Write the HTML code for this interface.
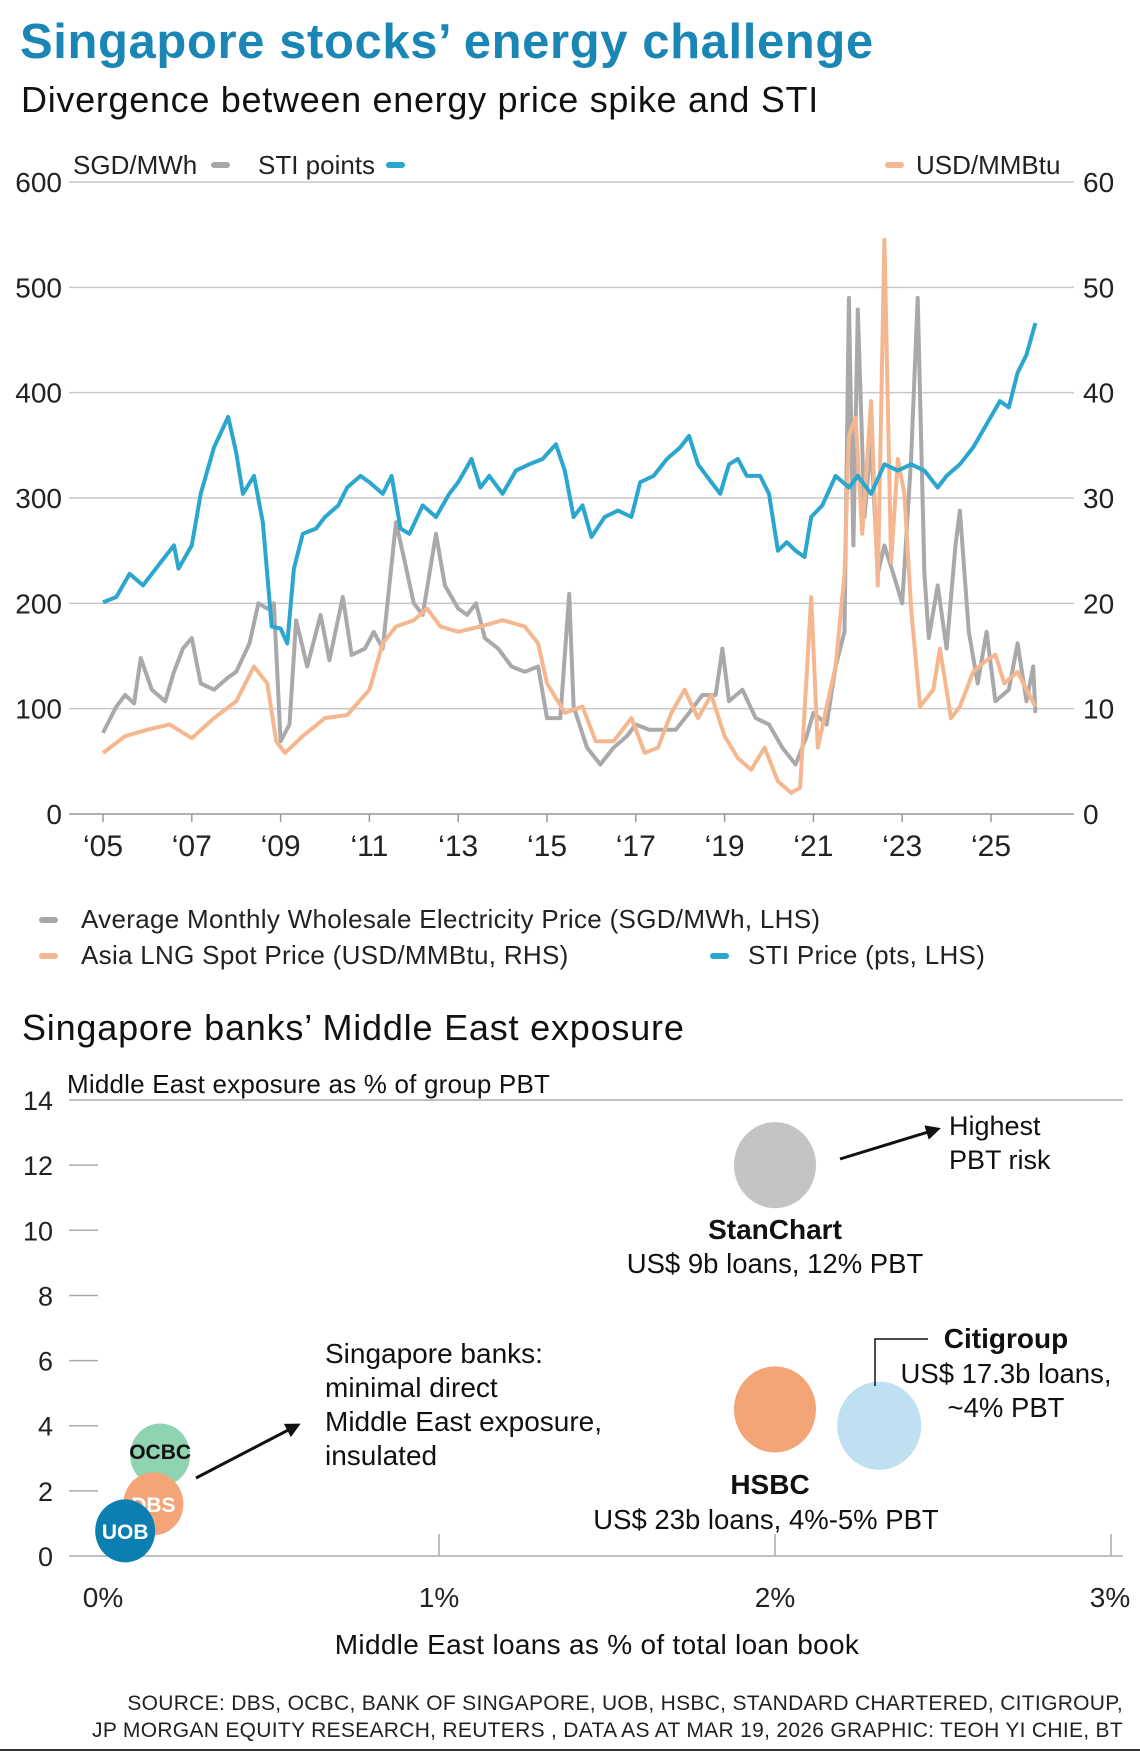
<!DOCTYPE html>
<html><head><meta charset="utf-8"><style>
body{margin:0;background:#fff;}
#root{position:relative;width:1140px;height:1756px;overflow:hidden;font-family:"Liberation Sans",sans-serif;}
svg text{font-family:"Liberation Sans",sans-serif;}
</style></head><body>
<div id="root">
<svg id="svg" width="1140" height="1756" viewBox="0 0 1140 1756">
<text x="20" y="58" font-size="49" font-weight="bold" fill="#1a86b6" letter-spacing="0.6">Singapore stocks’ energy challenge</text>
<text x="21" y="112" font-size="36" fill="#111" letter-spacing="0.7">Divergence between energy price spike and STI</text>
<g id="c1"></g>
<g>
<rect x="39" y="917" width="19" height="6" rx="3" fill="#a7a7a9"/>
<text x="81" y="928" font-size="26" fill="#222" letter-spacing="0.3">Average Monthly Wholesale Electricity Price (SGD/MWh, LHS)</text>
<rect x="39" y="953" width="19" height="6" rx="3" fill="#f5b78f"/>
<text x="81" y="964" font-size="26" fill="#222" letter-spacing="0.3">Asia LNG Spot Price (USD/MMBtu, RHS)</text>
<rect x="710" y="953" width="19" height="6" rx="3" fill="#2aa6cf"/>
<text x="748" y="964" font-size="26" fill="#222" letter-spacing="0.3">STI Price (pts, LHS)</text>
</g>
<text x="22" y="1040" font-size="36" fill="#111" letter-spacing="0.8">Singapore banks’ Middle East exposure</text>
<g id="c2"></g>
<g font-size="21" fill="#222" text-anchor="end" letter-spacing="0.3">
<text x="1123" y="1710">SOURCE: DBS, OCBC, BANK OF SINGAPORE, UOB, HSBC, STANDARD CHARTERED, CITIGROUP,</text>
<text x="1123" y="1737">JP MORGAN EQUITY RESEARCH, REUTERS , DATA AS AT MAR 19, 2026    GRAPHIC: TEOH YI CHIE, BT</text>
</g>
<line x1="0" y1="1750" x2="1140" y2="1750" stroke="#333" stroke-width="2"/>
</svg>
</div>
<script>
const stiYears=[2005,2005.3,2005.6,2005.9,2006.3,2006.6,2006.7,2007,2007.2,2007.5,2007.82,2008,2008.15,2008.4,2008.6,2008.8,2009,2009.15,2009.3,2009.5,2009.8,2010,2010.3,2010.5,2010.8,2011,2011.3,2011.5,2011.7,2011.9,2012.2,2012.5,2012.8,2013,2013.3,2013.5,2013.7,2014,2014.3,2014.6,2014.9,2015.2,2015.4,2015.6,2015.8,2016,2016.3,2016.6,2016.9,2017.1,2017.4,2017.7,2018,2018.2,2018.4,2018.7,2018.9,2019.1,2019.3,2019.5,2019.8,2020,2020.2,2020.4,2020.6,2020.8,2020.95,2021.2,2021.5,2021.8,2022,2022.3,2022.6,2022.9,2023.2,2023.5,2023.8,2024,2024.3,2024.6,2024.9,2025.2,2025.4,2025.6,2025.8,2026];
const stiValues=[201,206,228,217,239,255,233,255,304,348,377,343,304,321,277,178,176,162,233,266,271,282,293,310,321,315,304,321,271,266,293,282,304,315,337,310,321,304,326,332,337,351,326,282,293,263,282,288,282,315,321,337,348,359,332,315,304,332,337,321,321,304,250,258,250,244,282,293,321,310,321,304,332,326,332,326,310,321,332,348,370,392,386,419,436,466];
const elecYears=[2005,2005.3,2005.5,2005.7,2005.85,2006.1,2006.4,2006.6,2006.8,2007,2007.2,2007.5,2007.8,2008,2008.3,2008.5,2008.7,2008.85,2009,2009.2,2009.35,2009.6,2009.9,2010.1,2010.4,2010.6,2010.9,2011.1,2011.3,2011.6,2011.8,2012,2012.2,2012.5,2012.7,2013,2013.2,2013.4,2013.6,2013.9,2014.2,2014.5,2014.8,2015,2015.3,2015.5,2015.6,2015.9,2016.2,2016.5,2016.8,2017,2017.3,2017.6,2017.9,2018.2,2018.5,2018.8,2018.95,2019.1,2019.4,2019.7,2020,2020.3,2020.6,2020.85,2021,2021.3,2021.5,2021.7,2021.8,2021.9,2022,2022.15,2022.3,2022.45,2022.6,2022.8,2023,2023.2,2023.35,2023.5,2023.6,2023.8,2024,2024.2,2024.3,2024.5,2024.7,2024.9,2025.1,2025.4,2025.6,2025.8,2025.95,2026];
const elecValues=[77,102,113,105,148,118,107,135,157,167,124,118,129,135,162,200,195,200,69,85,184,140,189,146,206,151,157,173,157,277,239,200,189,266,217,195,189,200,167,157,140,135,140,91,91,209,102,63,47,63,74,85,80,80,80,96,113,113,157,107,118,91,85,63,47,74,96,85,140,173,490,255,479,282,354,228,255,228,200,337,490,228,167,217,157,255,288,173,124,173,107,118,162,107,140,96];
const lngYears=[2005,2005.5,2006,2006.5,2007,2007.5,2008,2008.4,2008.7,2008.9,2009.1,2009.5,2010,2010.5,2011,2011.3,2011.6,2012,2012.3,2012.6,2013,2013.5,2014,2014.5,2014.8,2015,2015.4,2015.8,2016.1,2016.5,2016.9,2017.2,2017.5,2017.8,2018.1,2018.4,2018.7,2019,2019.3,2019.6,2019.9,2020.2,2020.5,2020.7,2020.95,2021.1,2021.3,2021.5,2021.7,2021.8,2021.95,2022.1,2022.3,2022.45,2022.6,2022.75,2022.9,2023.05,2023.2,2023.4,2023.7,2023.85,2024.1,2024.3,2024.6,2024.9,2025.1,2025.3,2025.6,2025.8,2026];
const lngValues=[5.8,7.4,8.0,8.5,7.2,9.1,10.7,14.0,12.4,6.9,5.8,7.4,9.1,9.4,11.8,16.2,17.8,18.4,19.5,17.8,17.3,17.8,18.4,17.8,16.2,12.4,9.6,10.2,6.9,6.9,9.1,5.8,6.3,9.6,11.8,9.1,11.3,7.4,5.3,4.2,6.3,3.1,2.0,2.5,20.6,6.3,10.2,14.0,22.8,35.9,37.6,26.6,39.2,21.7,54.5,23.9,33.7,30.4,19.5,10.2,11.8,15.7,9.1,10.2,13.5,14.6,15.1,12.4,13.5,11.8,10.2];
const leftTicks=[0,100,200,300,400,500,600];
const rightTicks=[0,10,20,30,40,50,60];
const yearTicks=[2005,2007,2009,2011,2013,2015,2017,2019,2021,2023,2025];
const yearLabels=["‘05","‘07","‘09","‘11","‘13","‘15","‘17","‘19","‘21","‘23","‘25"];

const bankNames=["StanChart","HSBC","Citigroup","OCBC","DBS","UOB"];
const bankLoanPct=[2.0,2.0,2.31,0.17,0.15,0.066];
const bankPbtPct=[12,4.5,4,3.1,1.6,0.77];
const pbtTicks=[0,2,4,6,8,10,12,14];
const loanTicks=[0,1,2,3];
const loanTickLabels=["0%","1%","2%","3%"];

const NS="http://www.w3.org/2000/svg";
function mk(parent,tag,attrs,text){const e=document.createElementNS(NS,tag);for(const k in attrs)e.setAttribute(k,attrs[k]);if(text!==undefined)e.textContent=text;parent.appendChild(e);return e;}

const c1=document.getElementById('c1');
const X0=69,X1=1074,Y0=814,Y600=182;
const xs=y=>103+(y-2005)*44.4;
const yl=v=>Y0-(v/600)*(Y0-Y600);
const yr=v=>Y0-(v/60)*(Y0-Y600);
leftTicks.forEach((t,i)=>{
  const g=mk(c1,'line',{x1:X0,x2:X1,y1:yl(t),y2:yl(t),stroke:t===0?'#999':'#c8c8c8','stroke-width':1.5});
  
  
  const l=mk(c1,'text',{x:62,y:yl(t)+10,'font-size':28,'text-anchor':'end',fill:'#222'},String(t));
  
  
});
rightTicks.forEach(t=>{
  const l=mk(c1,'text',{x:1083,y:yr(t)+10,'font-size':28,fill:'#222'},String(t));
  
  
});
yearTicks.forEach((y,i)=>{
  const t=mk(c1,'line',{x1:xs(y),x2:xs(y),y1:Y0,y2:Y0+8,stroke:'#999','stroke-width':1.5});
  
  
  const l=mk(c1,'text',{x:xs(y),y:856,'font-size':30,'text-anchor':'middle',fill:'#222'},yearLabels[i]);
  
  
});
function line(years,vals,scale,color,name){
  const d=years.map((y,i)=>(i?'L':'M')+xs(y).toFixed(1)+' '+scale(vals[i]).toFixed(1)).join(' ');
  const p=mk(c1,'path',{d:d,fill:'none',stroke:color,'stroke-width':4,'stroke-linejoin':'round'});
  
  
}
line(elecYears,elecValues,yl,'#a9a9ab','electricity-price-line');
line(lngYears,lngValues,yr,'#f5b78f','lng-price-line');
line(stiYears,stiValues,yl,'#2aa6cf','sti-line');
[[73,'SGD/MWh',211,'#a7a7a9','unit-sgd'],[258,'STI points',386,'#2aa6cf','unit-sti']].forEach(a=>{
  const t=mk(c1,'text',{x:a[0],y:174,'font-size':26,fill:'#222'},a[1]);
  
  
  const r=mk(c1,'rect',{x:a[2],y:162,width:19,height:6,rx:3,fill:a[3]});
  
  
});
{const r=mk(c1,'rect',{x:885,y:162,width:19,height:6,rx:3,fill:'#f5b78f'});


const t=mk(c1,'text',{x:916,y:174,'font-size':26,fill:'#222'},'USD/MMBtu');

}

const c2=document.getElementById('c2');
const bx=v=>103+v*336;
const by=v=>1556-v*32.57;
pbtTicks.forEach(t=>{
  const l=mk(c2,'text',{x:53,y:by(t)+10,'font-size':27,'text-anchor':'end',fill:'#222'},String(t));
  
  
  const g=(t===0||t===14)?mk(c2,'line',{x1:69,x2:1123,y1:by(t),y2:by(t),stroke:'#aaa','stroke-width':1.5}):mk(c2,'line',{x1:69,x2:98,y1:by(t),y2:by(t),stroke:'#aaa','stroke-width':1.5});
  
  
});
loanTicks.forEach((t,i)=>{
  if(t>0){const tk=mk(c2,'line',{x1:bx(t),x2:bx(t),y1:1556,y2:1534,stroke:'#aaa','stroke-width':1.5});
  
  }
  const l=mk(c2,'text',{x:Math.min(bx(t),1110),y:1607,'font-size':28,'text-anchor':'middle',fill:'#222'},loanTickLabels[i]);
  
  
});
const colors=['#c4c4c6','#f4a578','#bfe0f0','#8fd3b0','#f4a578','#0b7fb0'];
const radii=[41,41,42,30,30,30];
const labelCol=['','','','#111','#fff','#fff'];
bankNames.forEach((n,i)=>{
  const c=mk(c2,'ellipse',{cx:bx(bankLoanPct[i]),cy:by(bankPbtPct[i]),rx:radii[i],ry:radii[i]*1.05,fill:colors[i]});
  
  
  if(labelCol[i]){const t=mk(c2,'text',{x:bx(bankLoanPct[i]),y:by(bankPbtPct[i])+(i===3?4:8),'font-size':21,'font-weight':'bold','text-anchor':'middle',fill:labelCol[i]},n);
  
  }
});
const T=(x,y,s,txt,name,opt)=>{const a={x:x,y:y,'font-size':s,fill:'#111'};Object.assign(a,opt||{});const t=mk(c2,'text',a,txt);

};
T(67,1093,26,'Middle East exposure as % of group PBT','y-axis-title',{'letter-spacing':0.2});
T(597,1654,28,'Middle East loans as % of total loan book','x-axis-title',{'text-anchor':'middle','letter-spacing':0.3});
T(775,1239,28,'StanChart','stanchart-name',{'text-anchor':'middle','font-weight':'bold'});
T(775,1273,27.5,'US$ 9b loans, 12% PBT','stanchart-detail',{'text-anchor':'middle'});
T(949,1135,27,'Highest','highest-note-1');
T(949,1169,27,'PBT risk','highest-note-2');
T(1006,1348,28,'Citigroup','citi-name',{'text-anchor':'middle','font-weight':'bold'});
T(1006,1383,27.5,'US$ 17.3b loans,','citi-detail-1',{'text-anchor':'middle'});
T(1006,1417,27.5,'~4% PBT','citi-detail-2',{'text-anchor':'middle'});
T(770,1494,28,'HSBC','hsbc-name',{'text-anchor':'middle','font-weight':'bold'});
T(766,1529,27.5,'US$ 23b loans, 4%-5% PBT','hsbc-detail',{'text-anchor':'middle'});
['Singapore banks:','minimal direct','Middle East exposure,','insulated'].forEach((s,i)=>T(325,1363+i*34,28,s,'sg-banks-note-'+(i+1)));
mk(c2,'defs',{}).innerHTML='<marker id="ah" viewBox="0 0 10 10" refX="8" refY="5" markerWidth="5" markerHeight="5" orient="auto"><path d="M0 0L10 5L0 10z" fill="#111"/></marker>';
const a1=mk(c2,'line',{x1:840,y1:1159,x2:938,y2:1129,stroke:'#111','stroke-width':3,'marker-end':'url(#ah)'});


const a2=mk(c2,'line',{x1:196,y1:1478,x2:298,y2:1425,stroke:'#111','stroke-width':3,'marker-end':'url(#ah)'});


const ld=mk(c2,'path',{d:'M875 1386 L875 1339 L928 1339',fill:'none',stroke:'#111','stroke-width':1.5});


</script>
</body></html>
